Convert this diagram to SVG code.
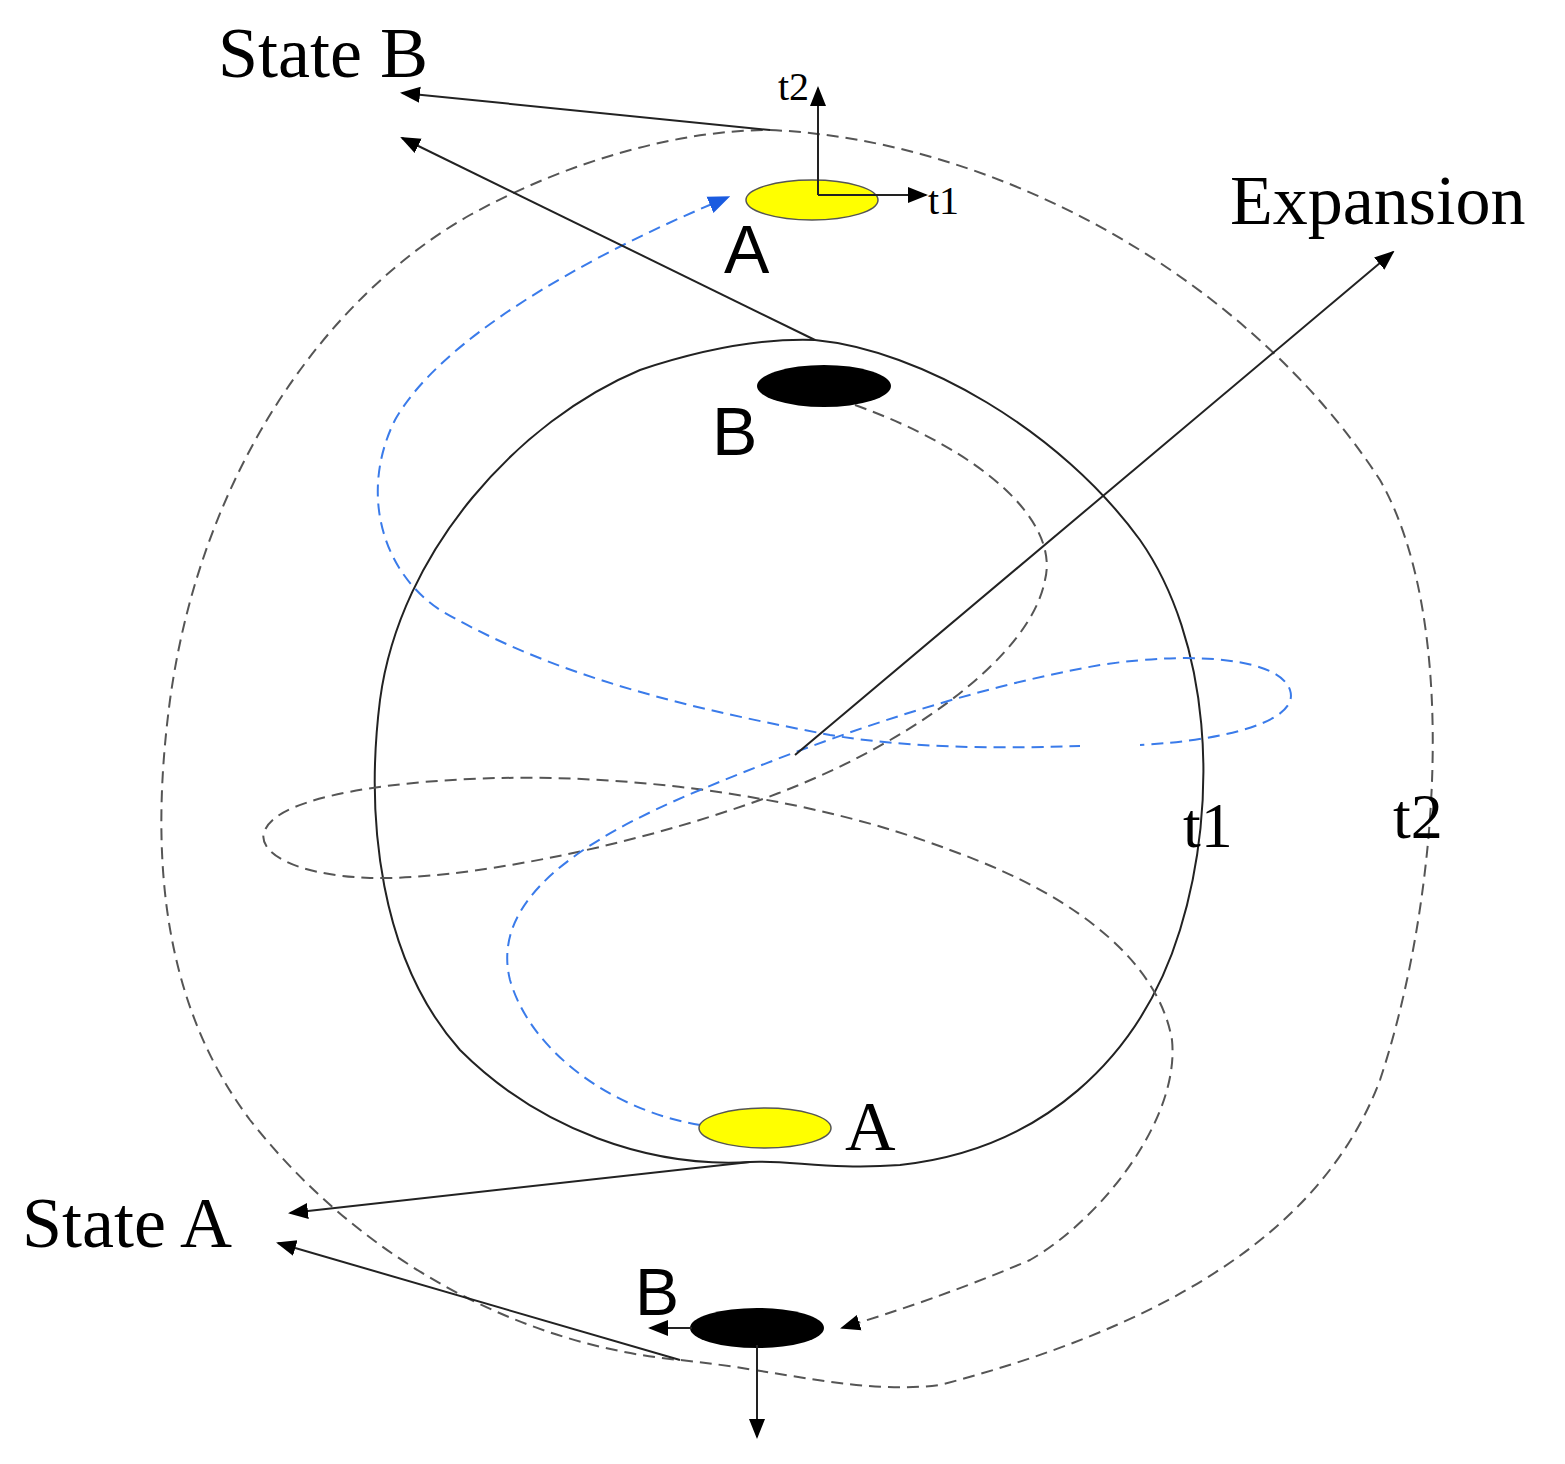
<svg xmlns="http://www.w3.org/2000/svg" width="1565" height="1464" viewBox="0 0 1565 1464">
<style>
.ser{font-family:"Liberation Serif",serif;fill:#000}
.san{font-family:"Liberation Sans",sans-serif;fill:#000}
.gd{fill:none;stroke:#555;stroke-width:2;stroke-dasharray:12,7}
.bd{fill:none;stroke:#3a7bea;stroke-width:2;stroke-dasharray:12,7}
.ln{fill:none;stroke:#222;stroke-width:2}
</style>
<defs>
<marker id="ahl" viewBox="0 0 10 10" refX="9" refY="5" markerWidth="20" markerHeight="20" orient="auto" markerUnits="userSpaceOnUse"><path d="M0,1 L10,5 L0,9 z" fill="#000"/></marker>
<marker id="ahb" viewBox="0 0 10 10" refX="1" refY="5" markerWidth="22" markerHeight="22" orient="auto-start-reverse" markerUnits="userSpaceOnUse"><path d="M0,1 L10,5 L0,9 z" fill="#1a5be0"/></marker>
</defs>
<g id="t2-boundary">
<path class="gd" d="M770,130 C1000,140 1250,280 1380,480 C1460,620 1440,900 1380,1080 C1320,1240 1150,1330 940,1385 C860,1395 780,1370 680,1360 C520,1345 360,1260 250,1120 C160,1000 150,850 170,700 C200,480 320,300 470,215 C570,160 680,130 770,130 Z"/>
<text class="ser" x="1393" y="838" font-size="64">t2</text>
</g>
<g id="t1-boundary">
<path class="ln" d="M815,340 C920,350 1060,430 1140,540 C1210,640 1220,800 1180,930 C1140,1060 1040,1150 900,1165 C830,1170 790,1160 750,1162 C650,1168 540,1130 460,1050 C380,960 365,820 380,700 C400,550 520,420 640,370 C700,350 760,338 815,340 Z"/>
<text class="ser" x="1183" y="847" font-size="64">t1</text>
</g>
<g id="connectors">
<path class="gd" d="M855,405 C980,450 1060,520 1045,580 C1030,660 900,750 760,800 C620,850 460,880 370,878 C290,875 255,850 265,830 C280,795 400,780 500,778 C650,775 820,800 950,850 C1090,900 1160,970 1172,1040 C1180,1120 1100,1220 1030,1260 C960,1290 900,1310 842,1328" marker-end="url(#ahl)"/>
<path class="bd" d="M700,1125 C610,1110 530,1050 510,980 C490,900 580,840 700,790 C820,740 960,690 1100,665 C1200,650 1280,660 1290,690 C1300,720 1230,740 1140,745"/>
<path class="bd" d="M712,204 C580,260 440,340 395,420 C360,490 380,570 440,610 C560,680 700,710 830,735 C920,750 1020,748 1080,746" marker-start="url(#ahb)"/>
<line class="ln" x1="795" y1="755" x2="1393" y2="252" marker-end="url(#ahl)"/>
<line class="ln" x1="770" y1="130" x2="402" y2="93" marker-end="url(#ahl)"/>
<line class="ln" x1="815" y1="340" x2="402" y2="138" marker-end="url(#ahl)"/>
<line class="ln" x1="750" y1="1162" x2="290" y2="1213" marker-end="url(#ahl)"/>
<line class="ln" x1="680" y1="1360" x2="278" y2="1243" marker-end="url(#ahl)"/>
</g>
<g id="top-A">
<ellipse cx="812" cy="200" rx="66" ry="20" fill="#ffff00" stroke="#555" stroke-width="1.5"/>
<line class="ln" x1="818" y1="195" x2="818" y2="88" marker-end="url(#ahl)"/>
<line class="ln" x1="818" y1="195" x2="926" y2="195" marker-end="url(#ahl)"/>
<text class="ser" x="778" y="100" font-size="40">t2</text>
<text class="ser" x="928" y="214" font-size="40">t1</text>
<text class="san" x="724" y="273" font-size="68">A</text>
</g>
<g id="top-B">
<ellipse cx="824" cy="386" rx="67" ry="21" fill="#000"/>
<text class="san" x="712" y="455" font-size="68">B</text>
</g>
<g id="bottom-A">
<ellipse cx="765" cy="1128" rx="66" ry="20" fill="#ffff00" stroke="#555" stroke-width="1.5"/>
<text class="ser" x="845" y="1150" font-size="70">A</text>
</g>
<g id="bottom-B">
<ellipse cx="757" cy="1328" rx="67" ry="20" fill="#000"/>
<line class="ln" x1="692" y1="1328" x2="650" y2="1328" marker-end="url(#ahl)"/>
<line class="ln" x1="757" y1="1345" x2="757" y2="1437" marker-end="url(#ahl)"/>
<text class="san" x="635" y="1315" font-size="66">B</text>
</g>
<g id="labels">
<text class="ser" x="218" y="77" font-size="72">State B</text>
<text class="ser" x="1230" y="224" font-size="70">Expansion</text>
<text class="ser" x="22" y="1247" font-size="72">State A</text>
</g>
</svg>
